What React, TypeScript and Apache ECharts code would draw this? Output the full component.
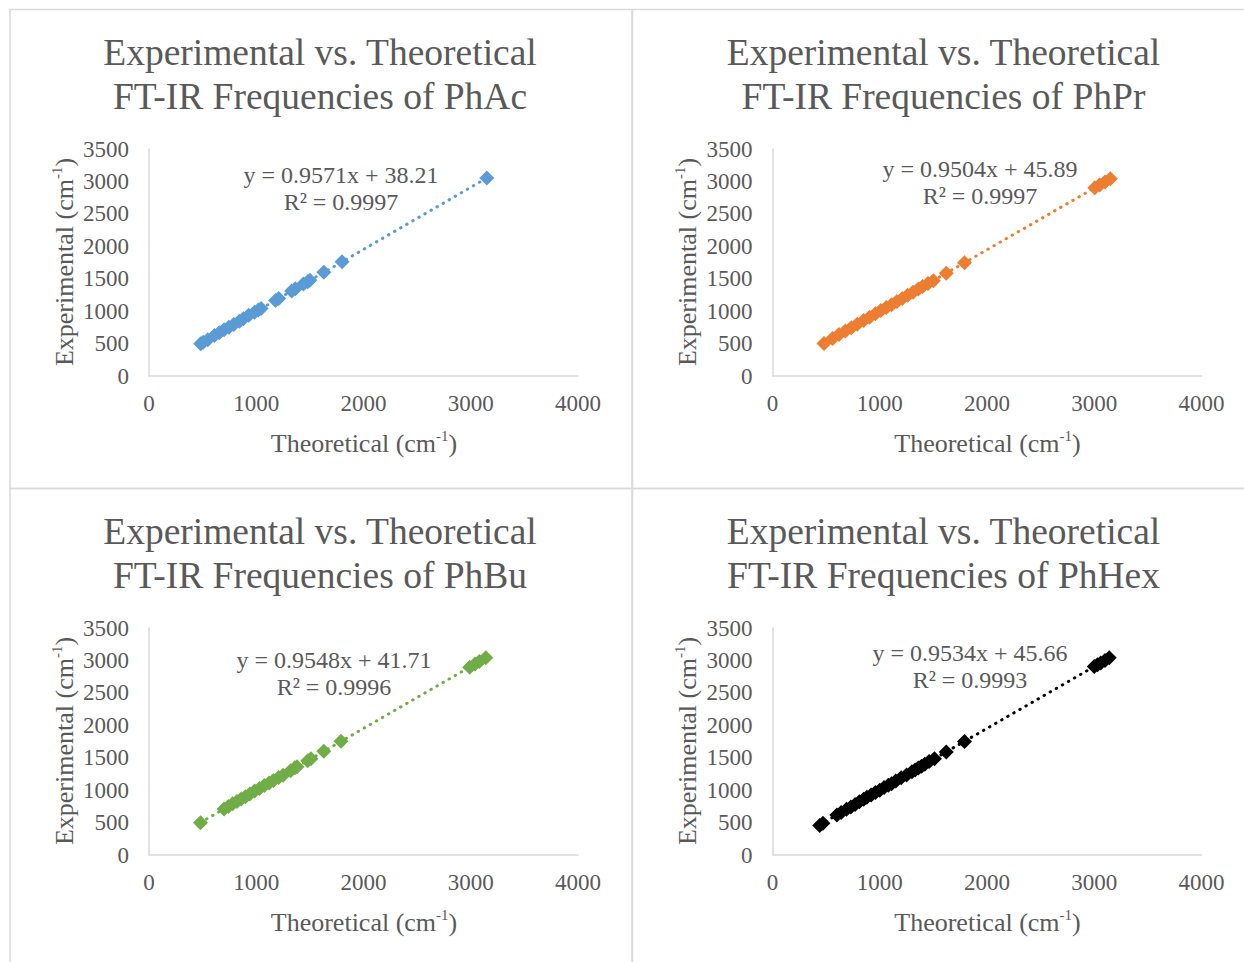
import React, { useEffect, useRef } from "react";
import * as echarts from "echarts";

// Theoretical vs. experimental FT-IR frequencies (cm-1) for each compound
const phAcTheo = [482, 505, 548, 610, 655, 700, 745, 790, 842, 880, 930, 985, 1020, 1045, 1180, 1210, 1330, 1365, 1440, 1480, 1500, 1630, 1800, 3150];
const phAcExp = [497, 520, 560, 624, 668, 712, 752, 795, 846, 884, 935, 982, 1018, 1040, 1166, 1195, 1310, 1345, 1420, 1455, 1477, 1600, 1760, 3052];

const phPrTheo = [480, 560, 620, 680, 735, 790, 850, 905, 960, 1010, 1060, 1110, 1160, 1210, 1260, 1310, 1360, 1400, 1450, 1500, 1620, 1790, 3005, 3050, 3100, 3150];
const phPrExp = [500, 578, 640, 695, 745, 798, 855, 907, 960, 1008, 1055, 1100, 1150, 1195, 1245, 1290, 1340, 1380, 1425, 1470, 1585, 1748, 2904, 2945, 2992, 3040];

const phBuTheo = [480, 700, 740, 780, 820, 860, 900, 940, 985, 1030, 1075, 1120, 1160, 1210, 1250, 1320, 1360, 1380, 1480, 1510, 1630, 1790, 2990, 3040, 3080, 3140];
const phBuExp = [497, 710, 748, 790, 826, 865, 900, 940, 985, 1025, 1070, 1110, 1150, 1195, 1230, 1300, 1345, 1360, 1455, 1485, 1600, 1752, 2895, 2945, 2985, 3040];

const phHexTheo = [440, 470, 600, 640, 690, 730, 770, 810, 850, 880, 920, 960, 1000, 1040, 1080, 1110, 1150, 1200, 1250, 1300, 1330, 1360, 1390, 1420, 1460, 1510, 1620, 1790, 3000, 3030, 3060, 3100, 3140];
const phHexExp = [455, 490, 615, 655, 705, 740, 780, 820, 860, 890, 925, 965, 1000, 1040, 1075, 1100, 1140, 1190, 1235, 1285, 1310, 1340, 1370, 1400, 1440, 1485, 1590, 1750, 2905, 2935, 2960, 3000, 3040];

// Linear fit results shown on each panel
const compounds = ["PhAc", "PhPr", "PhBu", "PhHex"];
const slopes = [0.9571, 0.9504, 0.9548, 0.9534];
const intercepts = [38.21, 45.89, 41.71, 45.66];
const rSquared = ["0.9997", "0.9997", "0.9996", "0.9993"];
const colors = ["#5B9BD5", "#ED7D31", "#70AD47", "#000000"];

const xTicks = { min: 0, max: 4000, interval: 1000 };
const yTicks = { min: 0, max: 3500, interval: 500 };

const theoSets = [phAcTheo, phPrTheo, phBuTheo, phHexTheo];
const expSets = [phAcExp, phPrExp, phBuExp, phHexExp];

const FONT = "'Liberation Serif', 'Times New Roman', serif";
const GREY = "#595959";

// panel offsets and equation label anchors
const offsets = [
  { ox: 0, oy: 0 },
  { ox: 623.5, oy: 0 },
  { ox: 0, oy: 479 },
  { ox: 623.5, oy: 479 },
];
const eqAnchors = [
  { x: 341, y: 175 },
  { x: 980, y: 169 },
  { x: 334, y: 660 },
  { x: 970, y: 653 },
];

const supRich = {
  a: { fontSize: 26, fontFamily: FONT, fill: GREY, color: GREY, lineHeight: 30, verticalAlign: "bottom" },
  s: { fontSize: 15, fontFamily: FONT, fill: GREY, color: GREY, lineHeight: 30, verticalAlign: "top", padding: [2, 0, 0, 0] },
};

function fmt(v: number, d: number) {
  return v.toFixed(d);
}

const plain = (v: number) => String(v);

export default function App() {
  const ref = useRef<HTMLDivElement>(null);

  useEffect(() => {
    if (!ref.current) return;
    const chart = echarts.init(ref.current, null, { renderer: "svg" });

    const grids: any[] = [];
    const xAxes: any[] = [];
    const yAxes: any[] = [];
    const series: any[] = [];
    const graphics: any[] = [];

    // panel frames
    const frame = { fill: "none", stroke: "#d9d9d9", lineWidth: 1.5 };
    graphics.push(
      { type: "rect", shape: { x: 10, y: 9.5, width: 622, height: 479 }, style: frame, silent: true },
      { type: "rect", shape: { x: 632.5, y: 9.5, width: 640, height: 479 }, style: frame, silent: true },
      { type: "rect", shape: { x: 10, y: 488.5, width: 622, height: 500 }, style: frame, silent: true },
      { type: "rect", shape: { x: 632.5, y: 488.5, width: 640, height: 500 }, style: frame, silent: true }
    );

    compounds.forEach((name, i) => {
      const { ox, oy } = offsets[i];
      grids.push({ left: 149 + ox, top: 149 + oy, width: 429, height: 227 });
      xAxes.push({
        type: "value",
        gridIndex: i,
        ...xTicks,
        axisLine: { show: true, lineStyle: { color: "#d9d9d9", width: 1.5 } },
        axisTick: { show: false },
        splitLine: { show: false },
        axisLabel: { color: GREY, fontFamily: FONT, fontSize: 23, margin: 16, formatter: plain },
      });
      yAxes.push({
        type: "value",
        gridIndex: i,
        ...yTicks,
        axisLine: { show: true, lineStyle: { color: "#d9d9d9", width: 1.5 } },
        axisTick: { show: false },
        splitLine: { show: false },
        axisLabel: { color: GREY, fontFamily: FONT, fontSize: 23, margin: 20, formatter: plain },
      });

      const theo = theoSets[i];
      const exp = expSets[i];
      const pts = theo.map((t, k) => [t, exp[k]]);
      const xMin = Math.min(...theo);
      const xMax = Math.max(...theo);
      const line = [
        [xMin, slopes[i] * xMin + intercepts[i]],
        [xMax, slopes[i] * xMax + intercepts[i]],
      ];

      series.push({
        type: "line",
        xAxisIndex: i,
        yAxisIndex: i,
        data: line,
        showSymbol: false,
        symbol: "none",
        lineStyle: { color: colors[i], width: 3, type: [0.5, 6.5], cap: "round" },
        z: 1,
      });
      series.push({
        type: "scatter",
        xAxisIndex: i,
        yAxisIndex: i,
        data: pts,
        symbol: "diamond",
        symbolSize: 15,
        itemStyle: { color: colors[i], opacity: 1 },
        z: 2,
      });

      // title
      graphics.push(
        {
          type: "text",
          x: 320 + ox,
          y: 52 + oy,
          style: { text: "Experimental vs. Theoretical", font: `37.5px ${FONT}`, fill: GREY, align: "center", verticalAlign: "middle" },
        },
        {
          type: "text",
          x: 320 + ox,
          y: 96 + oy,
          style: { text: `FT-IR Frequencies of ${name}`, font: `37.5px ${FONT}`, fill: GREY, align: "center", verticalAlign: "middle" },
        }
      );

      // axis titles
      graphics.push(
        {
          type: "text",
          x: 364 + ox,
          y: 441 + oy,
          style: { text: "{a|Theoretical (cm}{s|-1}{a|)}", rich: supRich, align: "center", verticalAlign: "middle" },
        },
        {
          type: "text",
          x: 62 + ox,
          y: 262 + oy,
          rotation: Math.PI / 2,
          style: { text: "{a|Experimental (cm}{s|-1}{a|)}", rich: supRich, align: "center", verticalAlign: "middle" },
        }
      );

      // trendline equation
      const a = eqAnchors[i];
      graphics.push(
        {
          type: "text",
          x: a.x,
          y: a.y,
          style: { text: `y = ${fmt(slopes[i], 4)}x + ${fmt(intercepts[i], 2)}`, font: `24px ${FONT}`, fill: GREY, align: "center", verticalAlign: "middle" },
        },
        {
          type: "text",
          x: a.x,
          y: a.y + 27,
          style: { text: `R² = ${rSquared[i]}`, font: `24px ${FONT}`, fill: GREY, align: "center", verticalAlign: "middle" },
        }
      );
    });

    chart.setOption({
      animation: false,
      backgroundColor: "#ffffff",
      grid: grids,
      xAxis: xAxes,
      yAxis: yAxes,
      series,
      graphic: graphics,
    });

    return () => chart.dispose();
  }, []);

  return (
    <div
      ref={ref}
      style={{ position: "absolute", left: 0, top: 0, width: 1244, height: 962 }}
    />
  );
}
